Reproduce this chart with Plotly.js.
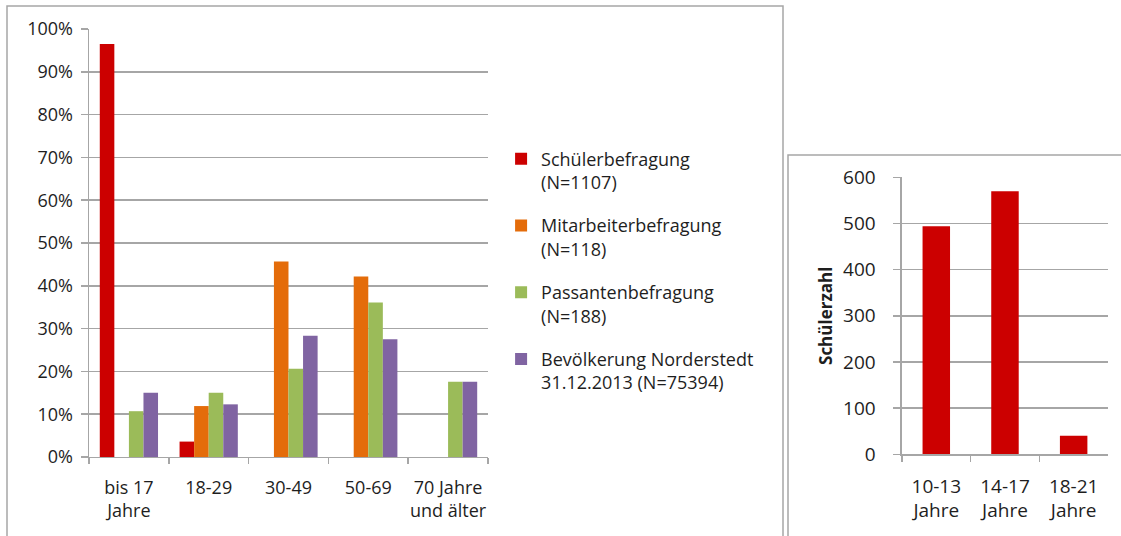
<!DOCTYPE html>
<html>
<head>
<meta charset="utf-8">
<script src="https://cdn.plot.ly/plotly-3.0.1.min.js"></script>
<style>html,body{margin:0;padding:0;background:#fff;}#chart{width:1121px;height:536px;}</style>
</head>
<body>
<div id="chart"></div>
<script>
// Left chart data (share in %)
var ageGroups = ["bis 17<br>Jahre", "18-29", "30-49", "50-69", "70 Jahre<br>und älter"];
var seriesNames = ["Schülerbefragung<br>(N=1107)", "Mitarbeiterbefragung<br>(N=118)", "Passantenbefragung<br>(N=188)", "Bevölkerung Norderstedt<br>31.12.2013 (N=75394)"];
var schueler = [96.5, 3.6, 0, 0, 0];
var mitarbeiter = [0, 11.9, 45.7, 42.2, 0];
var passanten = [10.7, 15.0, 20.6, 36.1, 17.6];
var bevoelkerung = [15.0, 12.3, 28.3, 27.5, 17.6];
var yTicksLeft = [0, 10, 20, 30, 40, 50, 60, 70, 80, 90, 100];
var yTickLabelsLeft = ["0%", "10%", "20%", "30%", "40%", "50%", "60%", "70%", "80%", "90%", "100%"];

// Right chart data (student counts)
var schuelerAges = ["10-13<br>Jahre", "14-17<br>Jahre", "18-21<br>Jahre"];
var schuelerZahl = [494, 570, 40];
var yTicksRight = [0, 100, 200, 300, 400, 500, 600];

var colors = ["#CC0000", "#E46C0A", "#9BBB59", "#8064A2"];
var seriesValues = [schueler, mitarbeiter, passanten, bevoelkerung];

var FONT = "Open Sans, Lato, sans-serif";
var TXT = "#1e1e1e";
var GRID = "#a6a6a6";

var traces = seriesValues.map(function (vals, i) {
  return {
    type: "bar",
    x: ageGroups,
    y: vals,
    name: seriesNames[i],
    legendgroup: "g" + i,
    marker: { color: colors[i] },
    xaxis: "x",
    yaxis: "y",
    hoverinfo: "none"
  };
});
traces.push({
  type: "bar",
  x: schuelerAges,
  y: schuelerZahl,
  name: "Schülerzahl",
  showlegend: false,
  marker: { color: "#CC0000" },
  width: 0.4,
  xaxis: "x2",
  yaxis: "y2",
  hoverinfo: "none"
});

var layout = {
  width: 1121,
  height: 536,
  margin: { l: 0, r: 0, t: 0, b: 0 },
  paper_bgcolor: "#ffffff",
  plot_bgcolor: "rgba(0,0,0,0)",
  font: { family: FONT, size: 18, color: TXT },
  barmode: "group",
  bargap: 0.27,
  bargroupgap: 0,
  showlegend: true,
  legend: {
    x: 0.447, y: 0.738, xanchor: "left", yanchor: "top",
    font: { family: FONT, size: 18, color: TXT },
    traceorder: "grouped",
    tracegroupgap: 17,
    valign: "top",
    bgcolor: "rgba(0,0,0,0)"
  },
  xaxis: {
    domain: [0.0794, 0.4353],
    anchor: "y",
    type: "category",
    tickangle: 0,
    showline: true, linecolor: GRID, linewidth: 1.5,
    ticks: "outside", tickson: "boundaries", ticklen: 6, tickcolor: GRID, tickwidth: 1.5,
    ticklabelstandoff: 14,
    tickfont: { family: FONT, size: 18, color: TXT },
    showgrid: false, zeroline: false, fixedrange: true
  },
  yaxis: {
    domain: [0.1474, 0.9459],
    anchor: "x",
    range: [0, 100],
    tickvals: yTicksLeft,
    ticktext: yTickLabelsLeft,
    showline: true, linecolor: GRID, linewidth: 1.5,
    ticks: "outside", ticklen: 7, tickcolor: GRID, tickwidth: 1.5,
    ticklabelstandoff: 4,
    showgrid: true, gridcolor: GRID, gridwidth: 1.5,
    zeroline: false,
    tickfont: { family: FONT, size: 18, color: TXT },
    fixedrange: true
  },
  xaxis2: {
    domain: [0.8046, 0.9884],
    anchor: "y2",
    type: "category",
    tickangle: 0,
    showline: true, linecolor: GRID, linewidth: 1.5,
    ticks: "outside", tickson: "boundaries", ticklen: 6, tickcolor: GRID, tickwidth: 1.5,
    ticklabelstandoff: 14,
    tickfont: { family: FONT, size: 19, color: TXT },
    showgrid: false, zeroline: false, fixedrange: true
  },
  yaxis2: {
    domain: [0.1524, 0.6692],
    anchor: "x2",
    range: [0, 600],
    tickvals: yTicksRight,
    showline: true, linecolor: GRID, linewidth: 1.5,
    ticks: "outside", ticklen: 7, tickcolor: GRID, tickwidth: 1.5,
    ticklabelstandoff: 14,
    showgrid: true, gridcolor: GRID, gridwidth: 1.5,
    zeroline: false,
    tickfont: { family: FONT, size: 19, color: TXT },
    title: { text: "<b>Schülerzahl</b>", font: { family: FONT, size: 17, color: TXT }, standoff: 6 },
    fixedrange: true
  },
  shapes: [
    { type: "rect", xref: "paper", yref: "paper", x0: 7 / 1121, x1: 783 / 1121, y0: -0.02, y1: 1 - 6 / 536,
      line: { color: "#a6a6a6", width: 1.5 }, fillcolor: "rgba(0,0,0,0)" },
    { type: "rect", xref: "paper", yref: "paper", x0: 788 / 1121, x1: 1.02, y0: -0.02, y1: 1 - 155 / 536,
      line: { color: "#a6a6a6", width: 1.5 }, fillcolor: "rgba(0,0,0,0)" }
  ]
};

Plotly.newPlot("chart", traces, layout, { staticPlot: true, displayModeBar: false });
</script>
</body>
</html>
